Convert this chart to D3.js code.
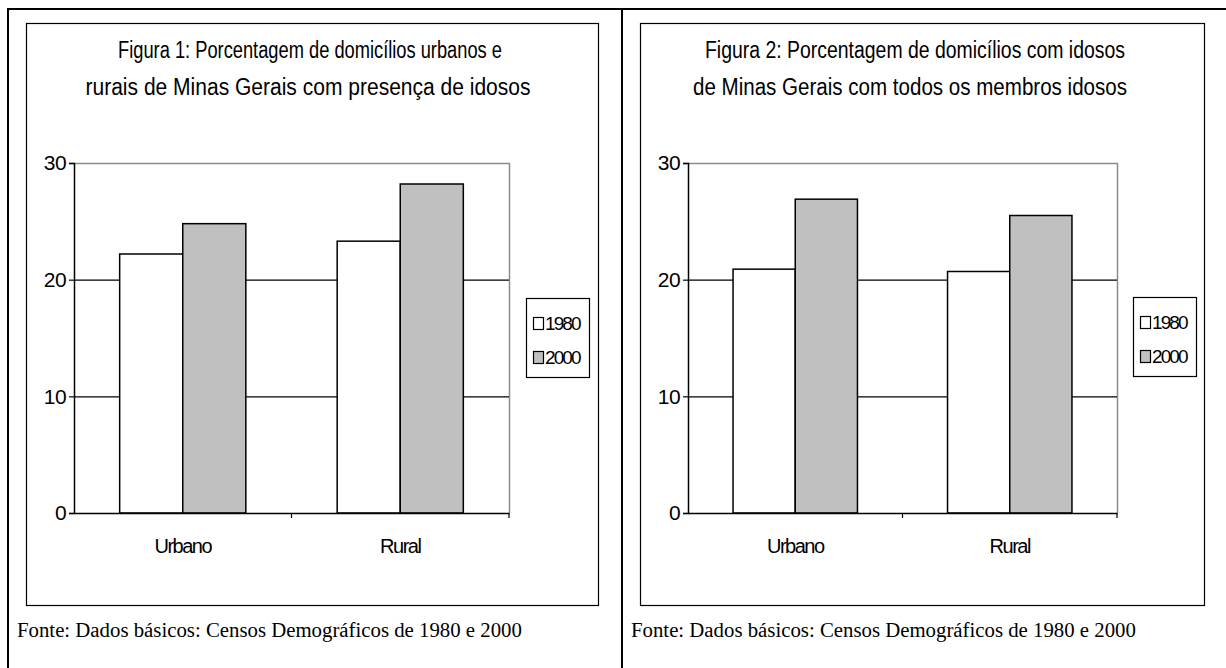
<!DOCTYPE html>
<html>
<head>
<meta charset="utf-8">
<script src="https://cdn.jsdelivr.net/npm/d3@7"></script>
<style>
  body { margin: 0; background: #fff; }
  svg { display: block; }
</style>
</head>
<body>
<svg id="chart" width="1226" height="668"></svg>
<script>
// data
var categories = ["Urbano", "Rural"];
var years = ["1980", "2000"];
var fig1_1980 = [22.2, 23.3];
var fig1_2000 = [24.8, 28.2];
var fig2_1980 = [20.9, 20.7];
var fig2_2000 = [26.9, 25.5];
var yTicks = [0, 10, 20, 30];
var title1 = ["Figura 1: Porcentagem de domicílios urbanos e", "rurais de Minas Gerais com presença de idosos"];
var title2 = ["Figura 2: Porcentagem de domicílios com idosos", "de Minas Gerais com todos os membros idosos"];
var fonte = "Fonte: Dados básicos: Censos Demográficos de 1980 e 2000";

var fills = { "1980": "#ffffff", "2000": "#c0c0c0" };
var sans = "Arial, 'Liberation Sans', sans-serif";

var svg = d3.select("#chart");

// outer table lines
svg.append("line").attr("x1", 7).attr("x2", 1226).attr("y1", 9).attr("y2", 9)
  .attr("stroke", "#000").attr("stroke-width", 2);
svg.append("line").attr("x1", 8).attr("x2", 8).attr("y1", 8).attr("y2", 668)
  .attr("stroke", "#000").attr("stroke-width", 2);
svg.append("line").attr("x1", 622).attr("x2", 622).attr("y1", 8).attr("y2", 668)
  .attr("stroke", "#000").attr("stroke-width", 2);

function drawChart(o) {
  var g = svg.append("g");

  // chart frame
  g.append("rect")
    .attr("x", o.frame[0] + 0.5).attr("y", 23.5)
    .attr("width", o.frame[1] - o.frame[0]).attr("height", 582)
    .attr("fill", "none").attr("stroke", "#000").attr("stroke-width", 1.2);

  // title
  g.selectAll(".title").data(o.title).enter().append("text")
    .attr("x", function(d, i) { return o.titleX[i]; })
    .attr("y", function(d, i) { return 58 + i * 37; })
    .attr("text-anchor", "middle")
    .attr("font-family", sans).attr("font-size", 23)
    .attr("textLength", function(d, i) { return o.titleW[i]; })
    .attr("lengthAdjust", "spacingAndGlyphs")
    .text(function(d) { return d; });

  var x = d3.scaleBand().domain(categories).range([o.plot[0], o.plot[1]]);
  var x1 = d3.scaleBand().domain(years).range([0, x.bandwidth()]).paddingOuter(0.724);
  var y = d3.scaleLinear().domain([0, 30]).range([513, 163]);

  // plot border (grey)
  g.append("path")
    .attr("d", "M" + o.plot[0] + "," + (y(30) + 0.5) + "H" + (o.plot[1] + 0.5) + "V" + y(0))
    .attr("fill", "none").attr("stroke", "#8c8c8c").attr("stroke-width", 1.5);

  // gridlines
  g.selectAll(".grid").data(yTicks.filter(function(t) { return t > 0 && t < 30; }))
    .enter().append("line")
    .attr("x1", o.plot[0]).attr("x2", o.plot[1])
    .attr("y1", function(d) { return y(d) + 0.5; }).attr("y2", function(d) { return y(d) + 0.5; })
    .attr("stroke", "#000").attr("stroke-width", 1.2);

  // bars
  var rows = categories.map(function(c, i) {
    return { cat: c, vals: [{ year: "1980", v: o.v1980[i] }, { year: "2000", v: o.v2000[i] }] };
  });
  g.selectAll(".grp").data(rows).enter().append("g")
    .attr("transform", function(d) { return "translate(" + x(d.cat) + ",0)"; })
    .selectAll("rect").data(function(d) { return d.vals; }).enter().append("rect")
    .attr("x", function(d) { return x1(d.year); })
    .attr("y", function(d) { return y(d.v); })
    .attr("width", x1.bandwidth())
    .attr("height", function(d) { return y(0) - y(d.v); })
    .attr("fill", function(d) { return fills[d.year]; })
    .attr("stroke", "#000").attr("stroke-width", 1.5);

  // y axis
  var yAxis = g.append("g").attr("transform", "translate(" + o.plot[0] + ",0)")
    .call(d3.axisLeft(y).tickValues(yTicks).tickSize(5).tickPadding(3));
  yAxis.select(".domain").attr("stroke-width", 1.5);
  yAxis.selectAll("line").attr("stroke-width", 1.2);
  yAxis.selectAll("text").attr("font-family", sans).attr("font-size", 21)
    .attr("letter-spacing", -0.6).attr("fill", "#000");

  // x axis
  var xAxis = g.append("g").attr("transform", "translate(0," + y(0) + ")")
    .call(d3.axisBottom(x).tickSize(0).tickPadding(26).tickSizeOuter(0));
  xAxis.select(".domain").attr("stroke-width", 1.5);
  xAxis.selectAll("text").attr("font-family", sans).attr("font-size", 20)
    .attr("letter-spacing", -1.5).attr("fill", "#000");
  // boundary ticks between categories
  xAxis.selectAll(".bt").data(categories).enter().append("line")
    .attr("x1", function(d) { return x(d) + x.bandwidth(); })
    .attr("x2", function(d) { return x(d) + x.bandwidth(); })
    .attr("y1", 0).attr("y2", 5).attr("stroke", "#000").attr("stroke-width", 1.2);

  // legend
  var lg = g.append("g").attr("transform", "translate(" + o.legend[0] + "," + o.legend[1] + ")");
  lg.append("rect").attr("x", 0.5).attr("y", 0.5).attr("width", 63).attr("height", 79)
    .attr("fill", "#fff").attr("stroke", "#000").attr("stroke-width", 1.2);
  var items = lg.selectAll(".it").data(years).enter().append("g")
    .attr("transform", function(d, i) { return "translate(0," + (i * 34) + ")"; });
  items.append("rect").attr("x", 7.5).attr("y", 19.5).attr("width", 10).attr("height", 12)
    .attr("fill", function(d) { return fills[d]; }).attr("stroke", "#000").attr("stroke-width", 1.2);
  items.append("text").attr("x", 19).attr("y", 32)
    .attr("font-family", sans).attr("font-size", 19).attr("letter-spacing", -1.9)
    .text(function(d) { return d; });

  // source line
  g.append("text").attr("x", o.frame[0] - 9).attr("y", 637)
    .attr("font-family", "'Times New Roman', 'Liberation Serif', serif").attr("font-size", 20.8)
    .text(fonte);
}

drawChart({
  frame: [26, 598], plot: [74, 509], legend: [526, 298],
  title: title1, titleX: [310, 308], titleW: [384, 445],
  v1980: fig1_1980, v2000: fig1_2000
});
drawChart({
  frame: [640, 1204], plot: [688, 1117], legend: [1133, 297],
  title: title2, titleX: [915, 910], titleW: [420, 434],
  v1980: fig2_1980, v2000: fig2_2000
});
</script>
</body>
</html>
